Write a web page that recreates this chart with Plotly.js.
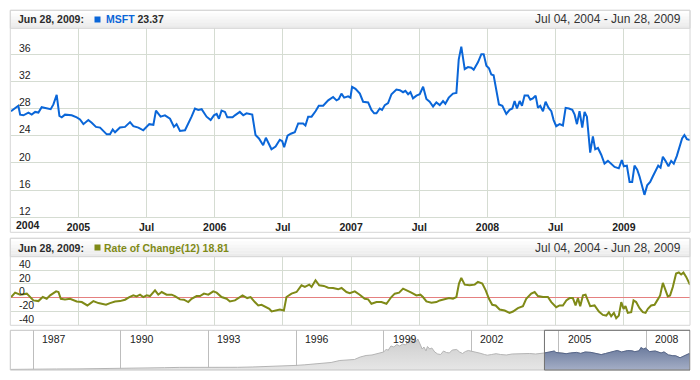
<!DOCTYPE html>
<html><head><meta charset="utf-8">
<script src="https://cdn.plot.ly/plotly-3.0.1.min.js"></script>
<style>html,body{margin:0;padding:0;background:#fff;}#chart{width:700px;height:380px;}</style>
</head><body><div id="chart"></div>
<script>
// ---------- DATA ----------
const headerDate = 'Jun 28, 2009:';
const rangeText = 'Jul 04, 2004 - Jun 28, 2009';
const seriesName = 'MSFT';
const indicatorName = 'Rate of Change(12)';
const edgeYearLabel = '2004';

const mainTickVals = [2005, 2005.5, 2006, 2006.5, 2007, 2007.5, 2008, 2008.5, 2009];
const mainTickText = ['2005', 'Jul', '2006', 'Jul', '2007', 'Jul', '2008', 'Jul', '2009'];
const priceTicks = [12, 16, 20, 24, 28, 32, 36];
const rocTicks = [-40, -20, 0, 20, 40];
const scrollerTickVals = [1987, 1990, 1993, 1996, 1999, 2002, 2005, 2008];
const scrollerTickText = ['1987', '1990', '1993', '1996', '1999', '2002', '2005', '2008'];

// MSFT close (time as decimal year)
const priceYears = [2004.506,2004.560,2004.573,2004.597,2004.634,2004.658,2004.683,2004.707,2004.731,2004.768,2004.797,2004.817,2004.841,2004.861,2004.878,2004.902,2004.951,2004.988,2005.012,2005.037,2005.073,2005.098,2005.129,2005.159,2005.183,2005.208,2005.232,2005.252,2005.269,2005.305,2005.342,2005.379,2005.403,2005.440,2005.476,2005.520,2005.550,2005.569,2005.603,2005.635,2005.672,2005.701,2005.720,2005.745,2005.782,2005.806,2005.830,2005.855,2005.879,2005.904,2005.940,2005.970,2005.994,2006.014,2006.031,2006.050,2006.075,2006.092,2006.131,2006.148,2006.184,2006.209,2006.233,2006.275,2006.299,2006.324,2006.355,2006.375,2006.416,2006.446,2006.477,2006.495,2006.509,2006.534,2006.558,2006.587,2006.612,2006.648,2006.665,2006.685,2006.710,2006.739,2006.763,2006.795,2006.832,2006.868,2006.893,2006.910,2006.929,2006.949,2006.978,2006.995,2007.007,2007.032,2007.064,2007.088,2007.125,2007.149,2007.169,2007.186,2007.210,2007.227,2007.247,2007.271,2007.296,2007.332,2007.357,2007.381,2007.398,2007.418,2007.435,2007.454,2007.479,2007.503,2007.528,2007.552,2007.576,2007.601,2007.625,2007.650,2007.674,2007.691,2007.716,2007.747,2007.772,2007.789,2007.808,2007.833,2007.857,2007.882,2007.899,2007.930,2007.955,2007.972,2007.992,2008.011,2008.028,2008.045,2008.060,2008.084,2008.109,2008.138,2008.162,2008.182,2008.199,2008.216,2008.236,2008.253,2008.272,2008.297,2008.314,2008.333,2008.353,2008.370,2008.387,2008.407,2008.426,2008.448,2008.468,2008.485,2008.504,2008.529,2008.553,2008.573,2008.597,2008.622,2008.639,2008.656,2008.675,2008.695,2008.712,2008.729,2008.753,2008.773,2008.790,2008.810,2008.834,2008.858,2008.883,2008.907,2008.932,2008.963,2008.985,2009.000,2009.022,2009.042,2009.061,2009.078,2009.098,2009.115,2009.132,2009.151,2009.171,2009.193,2009.212,2009.232,2009.252,2009.269,2009.286,2009.305,2009.327,2009.347,2009.366,2009.388,2009.408,2009.427,2009.444,2009.462,2009.485];
const priceClose = [27.6,28.4,27.1,27.0,27.4,27.1,27.5,27.4,28.2,28.0,27.9,28.6,30.0,26.9,26.7,27.1,27.0,26.7,26.4,25.7,26.3,25.9,25.3,25.2,24.7,24.2,24.2,24.9,24.5,25.2,25.3,26.0,25.4,25.2,24.8,25.7,25.6,27.7,26.8,27.0,26.5,25.3,25.7,24.7,24.8,25.7,26.8,28.0,27.8,27.9,26.8,26.3,27.0,27.2,26.5,27.7,27.5,26.7,26.7,27.0,27.5,27.0,27.3,27.1,24.1,23.6,22.6,23.7,22.0,22.4,23.4,23.2,22.3,24.0,24.3,24.5,25.8,25.8,25.5,26.8,26.8,27.6,28.4,28.4,29.2,29.7,29.2,29.4,30.2,29.6,29.8,29.6,31.2,30.9,30.2,29.0,28.9,27.8,27.3,27.3,28.0,27.8,28.5,28.8,30.1,30.8,30.7,30.4,30.6,30.1,30.4,29.5,29.9,30.1,31.2,29.4,29.0,28.3,28.9,28.5,29.1,28.7,29.6,30.2,30.3,35.2,37.1,33.8,34.1,34.0,33.7,34.8,36.0,36.0,34.3,33.9,33.0,32.9,31.1,28.6,28.4,27.2,27.8,28.0,29.1,28.0,29.1,28.4,29.9,29.9,29.3,29.5,29.9,28.1,28.4,27.6,29.0,28.1,27.6,26.3,25.4,25.7,25.5,28.1,28.0,27.8,27.1,25.7,27.6,25.2,27.5,26.8,21.5,23.9,22.0,22.2,21.2,19.9,20.3,19.9,19.4,19.2,20.4,19.5,19.6,17.2,17.2,19.6,19.0,18.0,16.6,15.3,16.7,17.2,18.0,18.8,19.6,19.3,20.9,20.3,19.5,20.3,19.9,21.0,22.4,23.6,24.1,23.5,23.37];

// Rate of Change(12)
const rocYears = [2004.507,2004.536,2004.573,2004.622,2004.670,2004.707,2004.739,2004.768,2004.793,2004.837,2004.854,2004.871,2004.902,2004.939,2004.988,2005.025,2005.066,2005.081,2005.110,2005.147,2005.171,2005.203,2005.232,2005.269,2005.305,2005.342,2005.374,2005.403,2005.427,2005.452,2005.476,2005.501,2005.525,2005.562,2005.586,2005.611,2005.647,2005.684,2005.708,2005.745,2005.774,2005.806,2005.830,2005.867,2005.892,2005.921,2005.953,2005.989,2006.014,2006.050,2006.087,2006.111,2006.148,2006.180,2006.204,2006.238,2006.263,2006.294,2006.319,2006.343,2006.380,2006.400,2006.417,2006.441,2006.478,2006.507,2006.526,2006.563,2006.600,2006.636,2006.661,2006.693,2006.710,2006.739,2006.766,2006.800,2006.832,2006.868,2006.905,2006.930,2006.966,2006.990,2007.027,2007.063,2007.100,2007.125,2007.149,2007.186,2007.222,2007.259,2007.295,2007.320,2007.352,2007.381,2007.410,2007.442,2007.479,2007.508,2007.527,2007.552,2007.589,2007.625,2007.650,2007.686,2007.718,2007.747,2007.772,2007.791,2007.808,2007.833,2007.869,2007.906,2007.930,2007.962,2007.987,2008.011,2008.035,2008.060,2008.089,2008.126,2008.162,2008.187,2008.223,2008.260,2008.284,2008.321,2008.346,2008.370,2008.407,2008.443,2008.468,2008.504,2008.529,2008.553,2008.578,2008.602,2008.626,2008.646,2008.663,2008.680,2008.700,2008.719,2008.736,2008.753,2008.785,2008.817,2008.846,2008.871,2008.890,2008.907,2008.927,2008.944,2008.963,2008.981,2008.998,2009.012,2009.029,2009.054,2009.071,2009.090,2009.115,2009.139,2009.159,2009.176,2009.200,2009.225,2009.249,2009.266,2009.286,2009.305,2009.322,2009.339,2009.359,2009.383,2009.403,2009.420,2009.437,2009.457,2009.485];
const rocValues = [1.0,7.3,4.4,5.9,-3.9,-4.9,1.0,-1.5,3.4,9.3,8.3,-1.5,-2.4,-1.5,-5.4,-6.3,-11.2,-8.8,-4.9,-7.8,-8.8,-10.2,-7.8,-5.4,-4.9,-2.9,1.0,3.4,2.0,4.4,1.0,3.4,2.4,10.7,4.4,8.3,4.4,4.4,2.4,-2.4,-2.9,-6.3,-1.5,2.4,2.4,5.9,4.4,9.3,7.3,1.0,-1.5,-5.4,-3.9,1.0,3.4,-0.5,1.0,-6.3,-11.2,-10.2,-13.7,-16.1,-20.0,-18.5,-17.1,-18.5,1.0,5.9,8.3,18.0,15.6,19.0,15.6,25.4,18.0,17.1,14.6,14.1,12.2,14.1,8.3,6.5,9.3,4.4,-1.5,-2.4,-8.8,-6.3,-6.3,-8.8,1.0,5.9,7.3,13.2,10.7,7.3,3.4,4.4,1.0,-5.4,-7.3,-6.3,-3.9,-1.5,-0.5,-1.5,1.0,20.5,28.8,19.0,18.0,19.0,22.9,20.5,10.7,-1.5,-10.2,-11.2,-17.1,-18.5,-22.0,-20.0,-15.1,-12.2,-1.5,5.9,8.3,2.4,1.0,1.0,-6.3,-13.7,-11.2,-11.2,-3.9,-0.5,-0.5,-11.2,-0.5,-12.2,3.4,4.4,-3.9,-12.2,-11.2,-20.0,-24.9,-25.9,-21.0,-26.8,-22.0,-29.8,-25.9,-6.3,-16.1,-12.2,-22.0,-21.0,-3.9,-6.3,-15.1,-21.0,-22.0,-16.1,-11.2,-10.2,-2.4,3.4,21.5,9.3,2.0,3.4,15.6,35.1,36.6,33.7,36.6,30.2,18.81];

// Scroller: full history (relative heights read from the overview strip)
const scrollerYears = [1986.24,1986.6,1987.0,1987.5,1987.8,1988.5,1989.0,1989.5,1990.0,1990.5,1991.0,1991.5,1992.0,1992.5,1993.0,1993.5,1994.0,1994.5,1995.0,1995.5,1996.0,1996.3,1996.6,1997.0,1997.2,1997.5,1997.8,1998.0,1998.2,1998.4,1998.6,1998.8,1999.0,1999.1,1999.15,1999.25,1999.35,1999.45,1999.55,1999.65,1999.75,1999.85,1999.95,2000.02,2000.1,2000.17,2000.25,2000.32,2000.38,2000.45,2000.5,2000.58,2000.65,2000.75,2000.85,2000.95,2001.05,2001.15,2001.25,2001.35,2001.5,2001.6,2001.7,2001.8,2001.9,2002.0,2002.15,2002.3,2002.45,2002.55,2002.7,2002.85,2003.0,2003.2,2003.4,2003.6,2003.8,2004.0,2004.2,2004.4,2004.506,2004.6,2004.75,2004.84,2004.9,2005.1,2005.25,2005.4,2005.55,2005.6,2005.75,2005.9,2006.1,2006.3,2006.45,2006.6,2006.75,2006.9,2007.0,2007.15,2007.35,2007.5,2007.6,2007.75,2007.81,2007.9,2007.97,2008.1,2008.3,2008.5,2008.6,2008.75,2008.9,2009.0,2009.15,2009.3,2009.45,2009.49];
const scrollerValues = [0.6,0.8,1.0,1.4,1.0,1.1,1.2,1.5,1.6,1.8,2.0,2.3,2.6,2.5,2.6,2.4,2.7,3.0,3.4,4.2,4.6,5.2,5.8,7.0,7.5,9.5,10.0,10.5,13.0,14.5,15.0,16.5,18.0,21.0,19.5,24.0,23.0,25.5,24.0,26.0,25.0,29.0,33.0,31.0,28.0,31.0,25.0,21.0,23.0,19.0,23.5,21.0,22.0,18.0,16.0,15.5,19.0,17.5,17.0,20.0,20.5,18.0,16.5,18.5,19.5,19.0,17.5,16.8,15.5,14.8,15.5,16.3,15.5,15.0,16.0,16.2,17.0,16.5,16.0,16.3,17.0,17.6,17.8,19.0,17.5,17.2,16.3,17.0,17.0,17.6,16.6,18.0,17.6,16.3,15.4,16.5,18.0,18.8,19.5,18.0,19.4,19.2,18.3,19.2,22.4,21.0,21.9,18.4,19.0,17.0,18.1,15.1,14.3,14.2,12.2,14.6,16.3,16.0];

// ---------- LAYOUT HELPERS ----------
const W = 700, H = 380, ML = 11, MR = 10, MT = 28, MB = 10;
const px2x = p => (p - ML) / (W - ML - MR);
const px2y = p => (H - MB - p) / (H - MT - MB);
const xStart = priceYears[0], xEnd = priceYears[priceYears.length - 1];

const FONT = 'Liberation Sans, Arial, sans-serif';
const GRID = '#d5dcd2';
const BLUE = '#0a66d8';
const OLIVE = '#7f8a17';

function rect(x0, y0, x1, y1, o) {
  return Object.assign({type: 'rect', xref: 'paper', yref: 'paper',
    x0: px2x(x0), x1: px2x(x1), y0: px2y(y1), y1: px2y(y0)}, o);
}
function headerBar(top, bottom) {
  const out = [];
  const cols = ['#ffffff', '#fbfbfb', '#f7f7f7', '#f3f3f3', '#efefef', '#ebebeb'];
  const h = (bottom - top) / cols.length;
  cols.forEach((c, i) => out.push(rect(10.3, top + i * h, 690, top + (i + 1) * h + 0.2,
    {fillcolor: c, line: {width: 0}, layer: 'below'})));
  out.push(rect(10.3, top, 690, bottom, {line: {color: '#d6d6d6', width: 1}, fillcolor: 'rgba(0,0,0,0)'}));
  return out;
}

const shapes = [].concat(
  headerBar(10.3, 28.3),
  headerBar(238.3, 256.7),
  [
    rect(10.3, 10.3, 690, 232.3, {line: {color: '#d6d6d6', width: 1}}),
    rect(10.3, 238.3, 690, 325.3, {line: {color: '#d6d6d6', width: 1}}),
    rect(94.5, 16.5, 100.5, 22.5, {fillcolor: BLUE, line: {width: 0}}),
    rect(94.5, 244.5, 100.5, 250.5, {fillcolor: OLIVE, line: {width: 0}}),
    rect(10.3, 330.3, 690, 370, {line: {color: '#c4c4c4', width: 1}}),
    {type: 'rect', xref: 'x3', yref: 'paper', x0: xStart, x1: scrollerYears[scrollerYears.length - 1],
      y0: px2y(370), y1: px2y(330.3), line: {color: '#707070', width: 1}}
  ]
);

const lastPrice = priceClose[priceClose.length - 1];
const lastRoc = rocValues[rocValues.length - 1];

function ann(text, x, y, anchor, font) {
  return {text, xref: 'paper', yref: 'paper', x: px2x(x), y: px2y(y), xanchor: anchor, yanchor: 'middle',
    showarrow: false, font: Object.assign({family: FONT, size: 10.5, color: '#2b2b2b'}, font || {})};
}
const annotations = [
  ann('<b>' + headerDate + '</b>', 15.5, 19.5, 'left'),
  ann('<b><span style="color:' + BLUE + '">' + seriesName + '</span> ' + lastPrice.toFixed(2) + '</b>', 104, 19.5, 'left'),
  ann(rangeText, 683, 19.5, 'right', {size: 12, color: '#333'}),
  ann('<b>' + headerDate + '</b>', 15.5, 247.5, 'left'),
  ann('<b>' + indicatorName + ' ' + lastRoc.toFixed(2) + '</b>', 102, 247.5, 'left', {color: OLIVE}),
  ann(rangeText, 683, 247.5, 'right', {size: 12, color: '#333'}),
  ann('<b>' + edgeYearLabel + '</b>', 14, 225, 'left', {color: '#222'})
];
scrollerTickVals.forEach((v, i) => annotations.push({
  text: scrollerTickText[i], xref: 'x3', yref: 'paper', x: v, y: px2y(338.5), xanchor: 'left', yanchor: 'middle',
  xshift: 7, showarrow: false, font: {family: FONT, size: 10.5, color: '#222'}
}));

const selYears = [], selValues = [];
scrollerYears.forEach((y, i) => { if (y >= xStart) { selYears.push(y); selValues.push(scrollerValues[i]); } });

const traces = [
  {x: priceYears, y: priceClose, xaxis: 'x', yaxis: 'y', type: 'scatter', mode: 'lines',
    line: {color: BLUE, width: 2}, hoverinfo: 'skip'},
  {x: rocYears, y: rocValues, xaxis: 'x2', yaxis: 'y2', type: 'scatter', mode: 'lines',
    line: {color: OLIVE, width: 2}, hoverinfo: 'skip'},
  {x: scrollerYears, y: scrollerValues, xaxis: 'x3', yaxis: 'y3', type: 'scatter', mode: 'lines',
    fill: 'tozeroy', fillcolor: '#d8d8d8',
    fillgradient: {type: 'vertical', colorscale: [[0, '#e6e6e6'], [1, '#cccccc']]},
    line: {color: '#b4b4b4', width: 1}, hoverinfo: 'skip'},
  {x: selYears, y: selValues, xaxis: 'x3', yaxis: 'y3', type: 'scatter', mode: 'lines',
    fill: 'tozeroy', fillcolor: '#8090ad',
    fillgradient: {type: 'vertical', colorscale: [[0, '#a4aec6'], [1, '#6c7c9e']]},
    line: {color: '#56668a', width: 1}, hoverinfo: 'skip'}
];

const yTickFont = {family: FONT, size: 10.5, color: '#222'};
const layout = {
  width: W, height: H, margin: {l: ML, r: MR, t: MT, b: MB},
  paper_bgcolor: '#fff', plot_bgcolor: 'rgba(0,0,0,0)', showlegend: false,
  xaxis: {domain: [0, 1], anchor: 'y', range: [xStart, xEnd], tickmode: 'array',
    tickvals: mainTickVals, ticktext: mainTickText, showgrid: true, gridcolor: GRID, gridwidth: 1,
    zeroline: false, showline: true, linecolor: GRID, ticks: '',
    tickfont: {family: FONT, size: 10.5, color: '#222', weight: 'bold'}},
  yaxis: {domain: [px2y(217.3), px2y(28.3)], anchor: 'x', range: [12, 39.8], tickmode: 'array',
    tickvals: priceTicks, ticktext: priceTicks.map(String), showgrid: true, gridcolor: GRID,
    zeroline: false, showline: false, ticks: '', ticklabelposition: 'inside', ticklabelstandoff: 5,
    ticklabelshift: -6, tickfont: yTickFont},
  xaxis2: {domain: [0, 1], anchor: 'y2', matches: 'x', range: [xStart, xEnd], tickmode: 'array',
    tickvals: mainTickVals, showticklabels: false, showgrid: true, gridcolor: GRID,
    zeroline: false, showline: false, ticks: ''},
  yaxis2: {domain: [px2y(325.3), px2y(256.7)], anchor: 'x2', range: [-40, 59.5], tickmode: 'array',
    tickvals: rocTicks, ticktext: rocTicks.map(String), showgrid: true, gridcolor: GRID,
    zeroline: true, zerolinecolor: '#e58080', zerolinewidth: 1, showline: false, ticks: '',
    ticklabelposition: 'inside', ticklabelstandoff: 5, ticklabelshift: -6, tickfont: yTickFont},
  xaxis3: {domain: [0, 1], anchor: 'y3', range: [scrollerYears[0], scrollerYears[scrollerYears.length - 1]],
    tickmode: 'array', tickvals: scrollerTickVals, showticklabels: false, showgrid: true,
    gridcolor: '#bdbdbd', zeroline: false, showline: false, ticks: ''},
  yaxis3: {domain: [0, px2y(330.3)], anchor: 'x3', range: [0, 39.7], showgrid: false,
    showticklabels: false, zeroline: false, showline: false, ticks: ''},
  shapes, annotations
};

Plotly.newPlot('chart', traces, layout, {displayModeBar: false, staticPlot: true});
</script></body></html>
